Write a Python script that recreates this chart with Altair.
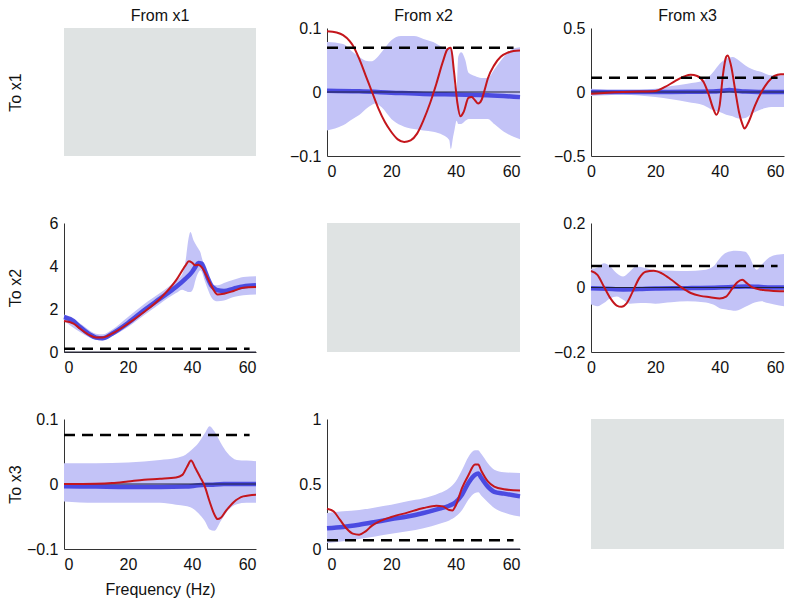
import altair as alt
import pandas as pd

FONT = "Liberation Sans"
BAND_COLOR = "#c3c3f7"
BLUE_COLOR = "#4141de"
RED_COLOR = "#c4161c"
GRAY_COLOR = "#dfe3e3"
ZERO_COLOR = "#22223a"

X_TICKS = [0, 20, 40, 60]
ROW_TITLES = ["To x1", "To x2", "To x3"]
COL_TITLES = ["From x1", "From x2", "From x3"]
X_TITLE = "Frequency (Hz)"

# ---------- To x1 <- From x2 ----------
p12_domain = [-0.1, 0.1]
p12_ticks = [-0.1, 0, 0.1]
p12_threshold = 0.069
p12_band_f = [0, 5, 8, 10, 12, 14, 15, 17, 20, 23, 27, 30, 33, 36, 38, 38.5, 39.2, 39.6, 40.3, 40.8, 41.7, 43, 44, 46, 48, 50, 52, 55, 58, 60]
p12_band_hi = [0.078, 0.075, 0.0625, 0.055, 0.049, 0.048, 0.051, 0.0625, 0.081, 0.0875, 0.0875, 0.083, 0.078, 0.070, 0.068, 0.068, 0.06, 0.01, 0.005, 0.055, 0.062, 0.05, 0.03, 0.025, 0.022, 0.022, 0.035, 0.055, 0.068, 0.07]
p12_band_lo = [-0.06, -0.052, -0.042, -0.036, -0.027, -0.02, -0.018, -0.024, -0.042, -0.052, -0.058, -0.06, -0.062, -0.067, -0.075, -0.089, -0.07, -0.06, -0.045, -0.05, -0.05, -0.045, -0.042, -0.042, -0.042, -0.042, -0.05, -0.062, -0.07, -0.074]
p12_blue_f = [0, 10, 20, 30, 40, 50, 60]
p12_blue_v = [0.002, 0.001, -0.001, -0.003, -0.004, -0.005, -0.008]
p12_red_f = [0, 3, 5, 7, 8, 10, 12, 14, 16, 18, 20, 22, 24, 26, 28, 30, 32, 34, 36, 37.5, 38.5, 39.5, 40.5, 41.5, 42.5, 44, 45, 46, 47, 48, 49, 50, 52, 54, 56, 58, 60]
p12_red_v = [0.095, 0.093, 0.089, 0.08, 0.073, 0.052, 0.026, 0.0, -0.026, -0.047, -0.0625, -0.074, -0.078, -0.0755, -0.065, -0.044, -0.018, 0.013, 0.047, 0.067, 0.069, 0.031, -0.016, -0.038, -0.031, -0.009, -0.008, -0.013, -0.018, -0.013, 0.003, 0.021, 0.042, 0.055, 0.061, 0.064, 0.065]

# ---------- To x1 <- From x3 ----------
p13_domain = [-0.5, 0.5]
p13_ticks = [-0.5, 0, 0.5]
p13_threshold = 0.112
p13_band_f = [0, 10, 20, 25, 30, 35, 38, 40, 42, 44, 46, 48, 50, 53, 56, 60]
p13_band_hi = [0.026, 0.013, 0.026, 0.047, 0.065, 0.09, 0.156, 0.22, 0.26, 0.273, 0.247, 0.208, 0.18, 0.156, 0.13, 0.13]
p13_band_lo = [-0.031, -0.021, -0.039, -0.057, -0.078, -0.104, -0.143, -0.156, -0.177, -0.19, -0.208, -0.203, -0.17, -0.135, -0.117, -0.117]
p13_blue_f = [0, 10, 20, 30, 38, 41, 43, 45, 48, 52, 60]
p13_blue_v = [0.0, 0.0, 0.0, 0.002, 0.004, 0.01, 0.015, 0.01, 0.003, 0.0, 0.0]
p13_red_f = [0, 5, 10, 15, 20, 23, 26, 29, 31, 33, 35, 36.5, 38, 39, 40, 41, 42, 42.5, 43.5, 45, 46, 47, 47.7, 49, 51, 53, 55, 57, 59, 60]
p13_red_v = [-0.013, -0.005, 0.0, 0.003, 0.008, 0.04, 0.083, 0.122, 0.135, 0.125, 0.078, -0.013, -0.13, -0.177, -0.104, 0.13, 0.273, 0.286, 0.21, -0.013, -0.156, -0.247, -0.286, -0.234, -0.104, 0.0, 0.078, 0.125, 0.138, 0.138]

# ---------- To x2 <- From x1 ----------
p21_domain = [0, 6]
p21_ticks = [0, 2, 4, 6]
p21_threshold = 0.15
p21_band_f = [0, 5, 10, 12, 15, 20, 25, 30, 35, 37, 38, 39, 39.5, 40.5, 41, 42, 42.7, 43, 44, 45, 46, 47, 48, 50, 53, 56, 60]
p21_band_hi = [1.75, 1.32, 0.85, 0.82, 1.04, 1.63, 2.22, 2.74, 3.33, 3.64, 4.26, 5.35, 5.58, 5.19, 5.05, 4.8, 4.6, 4.42, 3.95, 3.49, 3.18, 3.12, 3.1, 3.21, 3.36, 3.49, 3.52]
p21_band_lo = [1.47, 0.93, 0.57, 0.54, 0.73, 1.16, 1.71, 2.25, 2.74, 2.9, 2.84, 2.79, 2.79, 3.0, 3.3, 3.7, 3.8, 3.75, 3.3, 2.9, 2.56, 2.4, 2.36, 2.4, 2.56, 2.64, 2.67]
p21_blue_f = [0, 3, 5, 8, 10, 12, 15, 20, 25, 30, 35, 38, 40, 41, 42, 43, 44, 45, 46, 47, 48, 50, 53, 56, 60]
p21_blue_v = [1.63, 1.44, 1.16, 0.82, 0.67, 0.64, 0.85, 1.35, 1.94, 2.48, 3.02, 3.41, 3.72, 3.95, 4.14, 4.11, 3.8, 3.41, 3.1, 2.95, 2.87, 2.84, 2.95, 3.05, 3.1]
p21_red_f = [0, 3, 5, 8, 10, 12, 15, 20, 25, 30, 35, 38, 39, 40, 41, 42, 43, 45, 46.5, 48, 50, 53, 56, 60]
p21_red_v = [1.44, 1.32, 1.09, 0.78, 0.67, 0.67, 0.85, 1.32, 1.86, 2.48, 3.33, 4.03, 4.22, 4.16, 4.03, 4.06, 3.95, 3.41, 2.95, 2.67, 2.71, 2.84, 2.99, 3.02]

# ---------- To x2 <- From x3 ----------
p23_domain = [-0.2, 0.2]
p23_ticks = [-0.2, 0, 0.2]
p23_threshold = 0.0667
p23_band_f = [0, 2, 4, 6, 8, 10, 12, 14, 17, 20, 25, 30, 35, 38, 40, 42, 45, 48, 49, 51.5, 53, 55, 57, 60]
p23_band_hi = [0.058, 0.062, 0.075, 0.065, 0.044, 0.034, 0.049, 0.065, 0.06, 0.054, 0.052, 0.051, 0.054, 0.065, 0.09, 0.108, 0.114, 0.111, 0.1, 0.055, 0.07, 0.09, 0.1, 0.104]
p23_band_lo = [-0.053, -0.058, -0.048, -0.033, -0.028, -0.038, -0.05, -0.049, -0.048, -0.05, -0.046, -0.043, -0.046, -0.053, -0.064, -0.068, -0.072, -0.06, -0.055, -0.045, -0.043, -0.048, -0.053, -0.058]
p23_blue_f = [0, 5, 10, 15, 20, 30, 40, 45, 48, 52, 56, 60]
p23_blue_v = [-0.002, -0.004, -0.006, -0.005, -0.003, -0.002, 0.0, 0.002, 0.003, 0.002, 0.0, 0.0]
p23_red_f = [0, 2, 4, 6, 8, 9.5, 11, 13, 15, 17, 19.5, 22, 25, 28, 31, 34, 37, 40, 42, 44, 45.5, 47, 48.5, 50, 53, 56, 60]
p23_red_v = [0.051, 0.039, 0.003, -0.033, -0.056, -0.06, -0.05, -0.012, 0.029, 0.049, 0.052, 0.044, 0.024, 0.001, -0.017, -0.026, -0.030, -0.034, -0.028, -0.002, 0.016, 0.024, 0.013, 0.001, -0.007, -0.010, -0.012]

# ---------- To x3 <- From x1 ----------
p31_domain = [-0.1, 0.1]
p31_ticks = [-0.1, 0, 0.1]
p31_threshold = 0.0754
p31_band_f = [0, 10, 20, 30, 35, 38, 40, 42, 44, 45.5, 47, 49, 51, 54, 57, 60]
p31_band_hi = [0.032, 0.032, 0.033, 0.037, 0.04, 0.045, 0.053, 0.063, 0.078, 0.089, 0.081, 0.063, 0.048, 0.037, 0.036, 0.035]
p31_band_lo = [-0.027, -0.029, -0.029, -0.029, -0.032, -0.034, -0.037, -0.045, -0.057, -0.07, -0.072, -0.057, -0.042, -0.031, -0.029, -0.029]
p31_blue_f = [0, 10, 20, 30, 38, 42, 46, 50, 60]
p31_blue_v = [-0.0035, -0.004, -0.0045, -0.0045, -0.004, -0.002, -0.001, 0.0, 0.0]
p31_red_f = [0, 10, 15, 20, 25, 30, 35, 37, 38.5, 39.7, 41, 42.5, 44, 45.5, 47, 48, 49, 50.5, 53, 56, 60]
p31_red_v = [0.0, 0.0005, 0.0015, 0.004, 0.0067, 0.008, 0.01, 0.014, 0.027, 0.036, 0.025, 0.011, -0.0036, -0.027, -0.047, -0.054, -0.052, -0.042, -0.028, -0.019, -0.0164]

# ---------- To x3 <- From x2 ----------
p32_domain = [0, 1]
p32_ticks = [0, 0.5, 1]
p32_threshold = 0.067
p32_band_f = [0, 5, 10, 15, 20, 25, 30, 35, 38, 40, 42, 44, 46, 47, 48, 50, 52, 55, 60]
p32_band_hi = [0.277, 0.29, 0.3, 0.32, 0.34, 0.367, 0.39, 0.43, 0.47, 0.52, 0.61, 0.71, 0.76, 0.76, 0.73, 0.66, 0.61, 0.59, 0.585]
p32_band_lo = [0.046, 0.059, 0.077, 0.097, 0.118, 0.136, 0.16, 0.195, 0.22, 0.25, 0.3, 0.38, 0.43, 0.436, 0.41, 0.36, 0.315, 0.28, 0.25]
p32_blue_f = [0, 5, 10, 15, 20, 25, 30, 35, 38, 40, 42, 44, 46, 47, 48, 50, 52, 55, 60]
p32_blue_v = [0.16, 0.17, 0.187, 0.208, 0.23, 0.25, 0.277, 0.31, 0.333, 0.36, 0.42, 0.51, 0.57, 0.58, 0.546, 0.48, 0.44, 0.426, 0.405]
p32_red_f = [0, 2, 4, 6, 8, 10, 12, 14, 17, 20, 25, 30, 34, 36, 38, 39, 40, 42, 44, 46, 47, 48, 50, 52, 55, 60]
p32_red_v = [0.31, 0.29, 0.226, 0.16, 0.118, 0.11, 0.136, 0.18, 0.22, 0.246, 0.28, 0.315, 0.333, 0.328, 0.3, 0.297, 0.333, 0.47, 0.57, 0.65, 0.65, 0.6, 0.52, 0.48, 0.46, 0.45]

THRESH_SPAN = [0, 58]

W1, W2, W3 = 192, 193, 193
H1, H2, H3 = 128, 129, 130
ROW_LABEL_X = -49


def col_title(text, dy):
    return alt.TitleParams(text=text, dy=dy)


def panel(w, h, dom, ticks, band_f, band_lo, band_hi, blue_f, blue_v, red_f, red_v, thr,
          title=None, ytitle=None, xtitle=None, last_right=False):
    xs = alt.Scale(domain=[0, 60], nice=False, zero=False)
    ys = alt.Scale(domain=dom, nice=False, zero=False)
    xkw = dict(values=X_TICKS, format="d", title=xtitle, titlePadding=9)
    if last_right:
        xkw["labelAlign"] = {"condition": {"test": "datum.value == 60", "value": "right"}, "value": "center"}
    ykw = dict(values=ticks, format="~g", title=ytitle)
    if ytitle:
        ykw.update(titleX=ROW_LABEL_X, titleY=h / 2, titleAngle=270, titleBaseline="middle", titleAlign="center")
    X = alt.X("f:Q", scale=xs, axis=alt.Axis(**xkw))
    Y = alt.Y("v:Q", scale=ys, axis=alt.Axis(**ykw))
    band = alt.Chart(pd.DataFrame({"f": band_f, "v": band_lo, "v2": band_hi})).mark_area(
        color=BAND_COLOR, opacity=1, interpolate="monotone").encode(x=X, y=Y, y2="v2:Q")
    blue = alt.Chart(pd.DataFrame({"f": blue_f, "v": blue_v})).mark_line(
        color=BLUE_COLOR, strokeWidth=4.5, opacity=0.92, interpolate="monotone").encode(x=X, y=Y)
    zero = alt.Chart(pd.DataFrame({"v": [0]})).mark_rule(color=ZERO_COLOR, strokeWidth=1.2).encode(y=Y)
    red = alt.Chart(pd.DataFrame({"f": red_f, "v": red_v})).mark_line(
        color=RED_COLOR, strokeWidth=2, interpolate="monotone").encode(x=X, y=Y)
    dash = alt.Chart(pd.DataFrame({"f": THRESH_SPAN, "v": [thr, thr]})).mark_line(
        color="black", strokeWidth=2.5, strokeDash=[11, 7]).encode(x=X, y=Y)
    props = dict(width=w, height=h)
    if title is not None:
        props["title"] = title
    return alt.layer(band, blue, zero, red, dash).properties(**props)


def blank(w, h, title=None, ytitle=None):
    df = pd.DataFrame({"f": [0], "v": [0]})
    if ytitle:
        ya = alt.Axis(title=ytitle, labels=False, ticks=False, domain=False,
                      titleX=ROW_LABEL_X, titleY=h / 2, titleAngle=270, titleBaseline="middle", titleAlign="center")
    else:
        ya = None
    props = dict(width=w, height=h, view=alt.ViewBackground(fill=GRAY_COLOR, stroke=None))
    if title is not None:
        props["title"] = title
    return alt.Chart(df).mark_point(opacity=0).encode(
        x=alt.X("f:Q", axis=None), y=alt.Y("v:Q", axis=ya)).properties(**props)


p11 = blank(W1, H1, title=col_title(COL_TITLES[0], 3), ytitle=ROW_TITLES[0])
p12 = panel(W2, H1, p12_domain, p12_ticks, p12_band_f, p12_band_lo, p12_band_hi, p12_blue_f, p12_blue_v,
            p12_red_f, p12_red_v, p12_threshold, title=col_title(COL_TITLES[1], 11))
p13 = panel(W3, H1, p13_domain, p13_ticks, p13_band_f, p13_band_lo, p13_band_hi, p13_blue_f, p13_blue_v,
            p13_red_f, p13_red_v, p13_threshold, title=col_title(COL_TITLES[2], 11), last_right=True)

p21 = panel(W1, H2, p21_domain, p21_ticks, p21_band_f, p21_band_lo, p21_band_hi, p21_blue_f, p21_blue_v,
            p21_red_f, p21_red_v, p21_threshold, ytitle=ROW_TITLES[1])
p22 = blank(W2, H2)
p23 = panel(W3, H2, p23_domain, p23_ticks, p23_band_f, p23_band_lo, p23_band_hi, p23_blue_f, p23_blue_v,
            p23_red_f, p23_red_v, p23_threshold, last_right=True)

p31 = panel(W1, H3, p31_domain, p31_ticks, p31_band_f, p31_band_lo, p31_band_hi, p31_blue_f, p31_blue_v,
            p31_red_f, p31_red_v, p31_threshold, ytitle=ROW_TITLES[2], xtitle=X_TITLE)
p32 = panel(W2, H3, p32_domain, p32_ticks, p32_band_f, p32_band_lo, p32_band_hi, p32_blue_f, p32_blue_v,
            p32_red_f, p32_red_v, p32_threshold)
p33 = blank(W3, H3)

chart = alt.concat(
    p11, p12, p13, p21, p22, p23, p31, p32, p33,
    columns=3, spacing={"row": 67, "column": 71}, bounds="flush", align="each"
).properties(
    autosize=alt.AutoSizeParams(type="none"),
    padding={"left": 56, "top": 20, "right": 725, "bottom": 570}
).configure_view(
    stroke=None
).configure_axis(
    grid=False, ticks=False, domainColor="#333333", domainWidth=1,
    labelFont=FONT, labelFontSize=16, labelColor="#111111",
    titleFont=FONT, titleFontSize=16, titleFontWeight="normal", titleColor="#111111"
).configure_axisX(
    labelPadding=7
).configure_axisY(
    labelPadding=6
).configure_title(
    font=FONT, fontSize=16, fontWeight="normal", color="#111111", offset=7,
    anchor="middle", frame="group", baseline="alphabetic"
)

chart.save("out.html", embed_options={"renderer": "svg", "actions": False})
